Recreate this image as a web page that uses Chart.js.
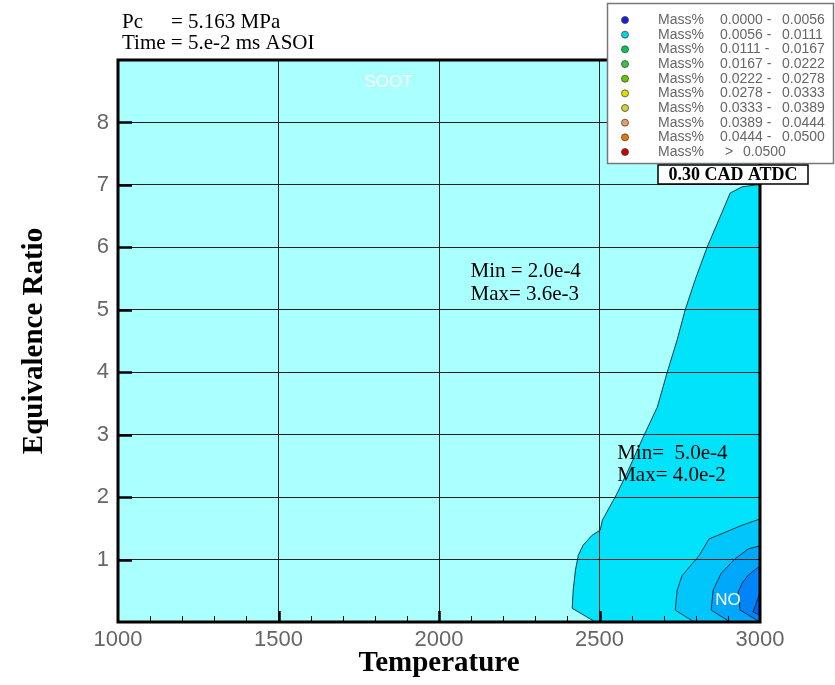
<!DOCTYPE html>
<html>
<head>
<meta charset="utf-8">
<script src="https://cdn.jsdelivr.net/npm/chart.js@4.4.1/dist/chart.umd.min.js"></script>
<style>
  html, body { margin: 0; padding: 0; background: #ffffff; }
  #wrap { width: 835px; height: 685px; }
</style>
</head>
<body>
<div id="wrap"><canvas id="chart-contour" width="835" height="685"></canvas></div>
<script>
// ========== data ==========
const xTicks = [1000, 1500, 2000, 2500, 3000];
const yTicks = [1, 2, 3, 4, 5, 6, 7, 8];

// contour bands, points are [temperature, equivalence ratio]
const band1 = [
  [3000, 0], [3000, 7.0], [2990, 7.0], [2945, 6.97], [2907, 6.87], [2885, 6.6],
  [2835, 6.0], [2798, 5.48], [2767, 5.0], [2742, 4.52], [2711, 4.0], [2680, 3.44],
  [2636, 2.96], [2586, 2.39], [2549, 2.0], [2543, 1.95], [2509, 1.63], [2502, 1.47],
  [2477, 1.39], [2449, 1.23], [2434, 1.07], [2425, 0.83], [2418, 0.51], [2415, 0.22],
  [2487, 0], [3000, 0]
];
const band2 = [
  [3000, 0], [3000, 1.65], [2944, 1.55], [2879, 1.41], [2841, 1.33], [2810, 1.06],
  [2788, 0.93], [2757, 0.74], [2742, 0.51], [2736, 0.19], [2795, 0], [3000, 0]
];
const band3 = [
  [3000, 0], [3000, 1.22], [2963, 1.17], [2922, 1.01], [2879, 0.78], [2854, 0.51],
  [2848, 0.19], [2907, 0], [3000, 0]
];
const band4 = [
  [3000, 0], [3000, 0.9], [2963, 0.75], [2944, 0.62], [2932, 0.48], [2938, 0.19],
  [3000, 0]
];
const band5 = [
  [3000, 0.11], [3000, 0.48], [2984, 0.24], [2978, 0.16], [3000, 0.11]
];
const bandColors = ["#00e3fb", "#00c6fb", "#00a8fb", "#0084f8", "#0060f0"];

// legend levels (Mass%)
const levelLow = ["0.0000", "0.0056", "0.0111", "0.0167", "0.0222", "0.0278", "0.0333", "0.0389", "0.0444", "0.0500"];
const levelHigh = ["0.0056", "0.0111", "0.0167", "0.0222", "0.0278", "0.0333", "0.0389", "0.0444", "0.0500", null];
const levelColors = ["#1c1ce0", "#00d8e4", "#00c858", "#3cc43c", "#64c800", "#e0e000", "#d2d23c", "#e6a05a", "#e67800", "#c80000"];

// ========== plugins ==========
const plotBackground = {
  id: "plotBackground",
  beforeDatasetsDraw(chart) {
    const { ctx, chartArea: a } = chart;
    ctx.save();
    ctx.fillStyle = "#aaffff";
    ctx.fillRect(a.left, a.top, a.width, a.height);
    ctx.restore();
  },
};

const contourFrame = {
  id: "contourFrame",
  afterDraw(chart) {
    const { ctx, chartArea: a } = chart;
    const x = chart.scales.x;
    const y = chart.scales.y;
    ctx.save();

    // inside tick marks
    ctx.strokeStyle = "#000";
    for (let t = 1100; t < 3000; t += 100) {
      const px = Math.round(x.getPixelForValue(t)) + 0.5;
      const major = t % 500 === 0;
      ctx.lineWidth = major ? 2.5 : 1;
      ctx.beginPath();
      ctx.moveTo(px, a.bottom);
      ctx.lineTo(px, a.bottom - (major ? 11 : 6));
      ctx.stroke();
    }
    yTicks.forEach((v) => {
      const py = Math.round(y.getPixelForValue(v)) + 0.5;
      ctx.lineWidth = 2.5;
      ctx.beginPath();
      ctx.moveTo(a.left, py);
      ctx.lineTo(a.left + 14, py);
      ctx.stroke();
    });

    // frame
    ctx.lineWidth = 3;
    ctx.strokeRect(a.left, a.top, a.width, a.height);

    // notes inside plot
    ctx.fillStyle = "#ffffff";
    ctx.font = "17px 'Liberation Sans'";
    ctx.textAlign = "center";
    ctx.textBaseline = "middle";
    ctx.fillText("SOOT", x.getPixelForValue(1843), y.getPixelForValue(8.65));
    ctx.fillText("NO", x.getPixelForValue(2900), y.getPixelForValue(0.34));

    ctx.fillStyle = "#000";
    ctx.font = "21px 'Liberation Serif'";
    ctx.textAlign = "left";
    ctx.textBaseline = "alphabetic";
    ctx.fillText("Min = 2.0e-4", x.getPixelForValue(2098), y.getPixelForValue(5.53));
    ctx.fillText("Max= 3.6e-3", x.getPixelForValue(2098), y.getPixelForValue(5.16));
    ctx.fillText("Min=  5.0e-4", x.getPixelForValue(2555), y.getPixelForValue(2.61));
    ctx.fillText("Max= 4.0e-2", x.getPixelForValue(2555), y.getPixelForValue(2.26));

    // header
    ctx.fillText("Pc", 122, 28);
    ctx.fillText("= 5.163 MPa", 171, 28);
    ctx.fillText("Time = 5.e-2 ms ASOI", 122, 49);

    // legend box
    ctx.fillStyle = "#ffffff";
    ctx.fillRect(607, 3, 226, 160);
    ctx.strokeStyle = "#777";
    ctx.lineWidth = 1.5;
    ctx.strokeRect(607.5, 3.5, 226, 160);
    ctx.font = "14px 'Liberation Sans'";
    ctx.textBaseline = "middle";
    levelColors.forEach((c, i) => {
      const ry = 20 + i * 14.67;
      ctx.fillStyle = c;
      ctx.beginPath();
      ctx.arc(625, ry, 3.5, 0, Math.PI * 2);
      ctx.fill();
      ctx.strokeStyle = "#444";
      ctx.lineWidth = 0.8;
      ctx.stroke();
      ctx.fillStyle = "#666";
      ctx.fillText("Mass%", 658, ry);
      if (levelHigh[i] === null) {
        ctx.fillText(">", 725, ry);
        ctx.fillText(levelLow[i], 743, ry);
      } else {
        ctx.fillText(levelLow[i] + " -", 720, ry);
        ctx.fillText(levelHigh[i], 782, ry);
      }
    });

    // time stamp box
    ctx.fillStyle = "#ffffff";
    ctx.fillRect(658, 165, 150, 19);
    ctx.strokeStyle = "#000";
    ctx.lineWidth = 1.5;
    ctx.strokeRect(658, 165, 150, 19);
    ctx.fillStyle = "#000";
    ctx.font = "bold 18px 'Liberation Serif'";
    ctx.textAlign = "center";
    ctx.fillText("0.30 CAD ATDC", 733, 175);

    ctx.restore();
  },
};

// ========== chart ==========
const bands = [band1, band2, band3, band4, band5];
const datasets = bands.map((b, i) => ({
  label: "band" + (i + 1),
  data: b.map((p) => ({ x: p[0], y: p[1] })),
  showLine: true,
  fill: "shape",
  backgroundColor: bandColors[i],
  borderColor: "rgba(0, 30, 40, 0.85)",
  borderWidth: 1,
  pointRadius: 0,
  tension: 0,
  order: bands.length - i,
}));

const ctxContour = document.getElementById("chart-contour").getContext("2d");
const chartContour = new Chart(ctxContour, {
  type: "scatter",
  data: { datasets: datasets },
  options: {
    responsive: false,
    animation: false,
    layout: { padding: { left: 0, top: 60, right: 75, bottom: 0 } },
    plugins: {
      legend: { display: false },
      tooltip: { enabled: false },
      filler: { propagate: false },
    },
    scales: {
      x: {
        type: "linear",
        min: 1000,
        max: 3000,
        afterBuildTicks: (s) => { s.ticks = xTicks.map((v) => ({ value: v })); },
        afterFit: (s) => { s.height = 63; },
        grid: { color: "#222", lineWidth: 1, drawTicks: false, z: 1 },
        border: { display: false },
        ticks: {
          padding: 5,
          color: "#666",
          font: { family: "'Liberation Sans'", size: 22 },
          maxRotation: 0,
          callback: (v) => String(v),
        },
        title: {
          display: true,
          text: "Temperature",
          color: "#000",
          font: { family: "'Liberation Serif'", size: 29, weight: "bold" },
          padding: { top: 0, bottom: 4 },
        },
      },
      y: {
        type: "linear",
        min: 0,
        max: 9,
        afterBuildTicks: (s) => { s.ticks = yTicks.map((v) => ({ value: v })); },
        afterFit: (s) => { s.width = 118; },
        grid: { color: "#222", lineWidth: 1, drawTicks: false, z: 1 },
        border: { display: false },
        ticks: {
          padding: 9,
          color: "#666",
          font: { family: "'Liberation Sans'", size: 22 },
          callback: (v) => String(v),
        },
        title: {
          display: true,
          text: "Equivalence Ratio",
          color: "#000",
          font: { family: "'Liberation Serif'", size: 29, weight: "bold" },
          padding: { top: 17, bottom: 0 },
        },
      },
    },
  },
  plugins: [plotBackground, contourFrame],
});
</script>
</body>
</html>
